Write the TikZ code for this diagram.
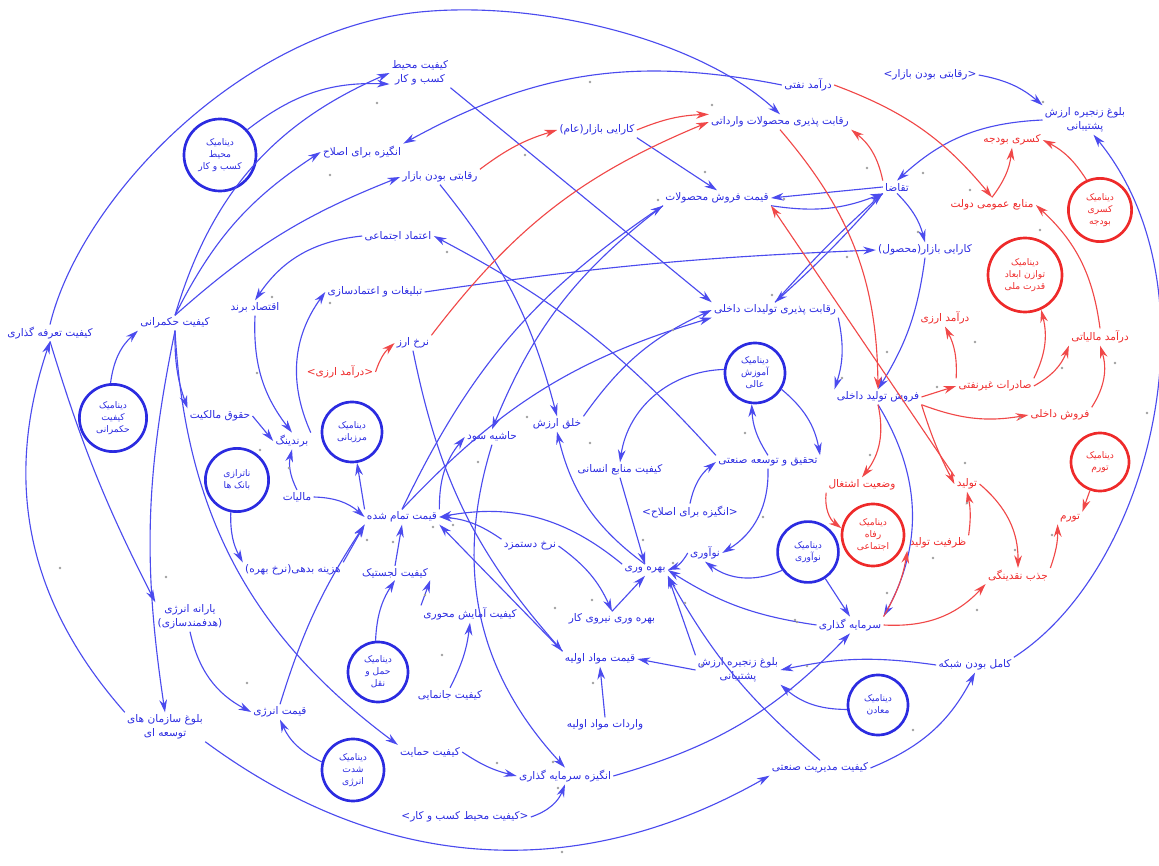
\documentclass[tikz,border=0pt]{standalone}
\usepackage{fontspec}
\usepackage{tikz}
\usetikzlibrary{arrows.meta}
\newfontfamily\fafont[Script=Arabic]{DejaVu Sans}
\TeXXeTstate=1
\newcommand{\fa}[1]{\beginR #1\endR}
\definecolor{LoopBlue}{HTML}{2B2BE0}
\definecolor{LoopRed}{HTML}{EE2A2A}
\definecolor{LinkBlue}{HTML}{4B4BEE}
\definecolor{LinkRed}{HTML}{F04848}

\begin{document}
\begin{tikzpicture}[
  x=0.025cm, y=0.025cm,
  var/.style={font=\fafont\fontsize{7.5}{10}\selectfont, align=center, inner sep=1.5pt},
  bv/.style={var, text=LoopBlue},
  rv/.style={var, text=LoopRed},
  loopc/.style={circle, line width=1.9pt, align=center, inner sep=0pt,
    font=\fafont\fontsize{6.5}{8.5}\selectfont, minimum size=#1},
  bc/.style={loopc=#1, draw=LoopBlue, text=LoopBlue},
  rc/.style={loopc=#1, draw=LoopRed, text=LoopRed},
  bl/.style={->, draw=LinkBlue, line width=0.8pt},
  rl/.style={->, draw=LinkRed, line width=0.8pt},
  pol/.style={fill=gray!75},
  >={Stealth[length=9pt,width=5.5pt]}]
\useasboundingbox (0,0) rectangle (1159,-866);

% blue variables
\node[bv] (kmBiz) at (420,-73) {\fa{کیفیت محیط}\\\fa{کسب و کار}};
\node[bv] (oil) at (808,-85) {\fa{درآمد نفتی}};
\node[bv] (mktCompIn) at (930,-75) {\fa{<رقابتی بودن بازار>}};
\node[bv] (vcTop) at (1085,-120) {\fa{بلوغ زنجیره ارزش}\\\fa{پشتیبانی}};
\node[bv] (impComp) at (780,-122) {\fa{رقابت پذیری محصولات وارداتی}};
\node[bv] (angizeh) at (362,-152) {\fa{انگیزه برای اصلاح}};
\node[bv] (effGen) at (597,-130) {\fa{کارایی بازار(عام)}};
\node[bv] (mktComp) at (440,-177) {\fa{رقابتی بودن بازار}};
\node[bv] (price) at (717,-198) {\fa{قیمت فروش محصولات}};
\node[bv] (demand) at (897,-187) {\fa{تقاضا}};
\node[bv] (trust) at (398,-236) {\fa{اعتماد اجتماعی}};
\node[bv] (effProd) at (925,-250) {\fa{کارایی بازار(محصول)}};
\node[bv] (adv) at (375,-292) {\fa{تبلیغات و اعتمادسازی}};
\node[bv] (brandEco) at (255,-308) {\fa{اقتصاد برند}};
\node[bv] (domComp) at (775,-310) {\fa{رقابت پذیری تولیدات داخلی}};
\node[bv] (hokm) at (175,-323) {\fa{کیفیت حکمرانی}};
\node[bv] (tariff) at (50,-333) {\fa{کیفیت تعرفه گذاری}};
\node[bv] (fx) at (413,-343) {\fa{نرخ ارز}};
\node[rv] (fxIncIn) at (340,-372) {\fa{<درآمد ارزی>}};
\node[bv] (domSales) at (878,-397) {\fa{فروش تولید داخلی}};
\node[bv] (prop) at (220,-416) {\fa{حقوق مالکیت}};
\node[bv] (brand) at (292,-441) {\fa{برندینگ}};
\node[bv] (margin) at (492,-437) {\fa{حاشیه سود}};
\node[bv] (value) at (557,-424) {\fa{خلق ارزش}};
\node[bv] (rnd) at (768,-462) {\fa{تحقیق و توسعه صنعتی}};
\node[bv] (hr) at (620,-470) {\fa{کیفیت منابع انسانی}};
\node[bv] (tax) at (297,-497) {\fa{مالیات}};
\node[bv] (cost) at (402,-517) {\fa{قیمت تمام شده}};
\node[bv] (angizehIn) at (690,-512) {\fa{<انگیزه برای اصلاح>}};
\node[bv] (debt) at (293,-570) {\fa{هزینه بدهی(نرخ بهره)}};
\node[bv] (wage) at (530,-546) {\fa{نرخ دستمزد}};
\node[bv] (prody) at (645,-570) {\fa{بهره وری}};
\node[bv] (innov) at (705,-553) {\fa{نوآوری}};
\node[bv] (logis) at (395,-573) {\fa{کیفیت لجستیک}};
\node[bv] (invest) at (850,-625) {\fa{سرمایه گذاری}};
\node[bv] (labProd) at (612,-619) {\fa{بهره وری نیروی کار}};
\node[bv] (amayesh) at (470,-614) {\fa{کیفیت آمایش محوری}};
\node[bv] (subsidy) at (190,-617) {\fa{یارانه انرژی}\\\fa{(هدفمندسازی)}};
\node[bv] (rawPrice) at (600,-659) {\fa{قیمت مواد اولیه}};
\node[bv] (vcLow) at (738,-670) {\fa{بلوغ زنجیره ارزش}\\\fa{پشتیبانی}};
\node[bv] (network) at (975,-665) {\fa{کامل بودن شبکه}};
\node[bv] (janamayi) at (450,-695) {\fa{کیفیت جانمایی}};
\node[bv] (energyPrice) at (280,-712) {\fa{قیمت انرژی}};
\node[bv] (devOrg) at (165,-727) {\fa{بلوغ سازمان های}\\\fa{توسعه ای}};
\node[bv] (rawImp) at (605,-725) {\fa{واردات مواد اولیه}};
\node[bv] (support) at (430,-752) {\fa{کیفیت حمایت}};
\node[bv] (invMot) at (565,-776) {\fa{انگیزه سرمایه گذاری}};
\node[bv] (indMgmt) at (820,-768) {\fa{کیفیت مدیریت صنعتی}};
\node[bv] (kmBizIn) at (465,-817) {\fa{<کیفیت محیط کسب و کار>}};

% red variables
\node[rv] (deficit) at (1012,-140) {\fa{کسری بودجه}};
\node[rv] (pubRes) at (992,-205) {\fa{منابع عمومی دولت}};
\node[rv] (fxInc) at (945,-318) {\fa{درآمد ارزی}};
\node[rv] (taxInc) at (1100,-337) {\fa{درآمد مالیاتی}};
\node[rv] (export) at (995,-386) {\fa{صادرات غیرنفتی}};
\node[rv] (intSales) at (1060,-415) {\fa{فروش داخلی}};
\node[rv] (employ) at (862,-485) {\fa{وضعیت اشتغال}};
\node[rv] (prod) at (967,-484) {\fa{تولید}};
\node[rv] (capacity) at (938,-543) {\fa{ظرفیت تولید}};
\node[rv] (liquidity) at (1018,-576) {\fa{جذب نقدینگی}};
\node[rv] (inflation) at (1070,-518) {\fa{تورم}};

% loops
\node[bc=1.8cm] (cBiz) at (220,-155) {\fa{دینامیک}\\\fa{محیط}\\\fa{کسب و کار}};
\node[bc=1.68cm] (cHokm) at (113,-418) {\fa{دینامیک}\\\fa{کیفیت}\\\fa{حکمرانی}};
\node[bc=1.58cm] (cBank) at (237,-480) {\fa{ناترازی}\\\fa{بانک ها}};
\node[bc=1.5cm] (cMarz) at (352,-432) {\fa{دینامیک}\\\fa{مرزبانی}};
\node[bc=1.5cm] (cEdu) at (755,-373) {\fa{دینامیک}\\\fa{آموزش}\\\fa{عالی}};
\node[bc=1.52cm] (cInnov) at (808,-552) {\fa{دینامیک}\\\fa{نوآوری}};
\node[bc=1.5cm] (cTrans) at (378,-672) {\fa{دینامیک}\\\fa{حمل و}\\\fa{نقل}};
\node[bc=1.55cm] (cEnergy) at (353,-770) {\fa{دینامیک}\\\fa{شدت}\\\fa{انرژی}};
\node[bc=1.5cm] (cMine) at (878,-705) {\fa{دینامیک}\\\fa{معادن}};
\node[rc=1.58cm] (cDef) at (1100,-210) {\fa{دینامیک}\\\fa{کسری}\\\fa{بودجه}};
\node[rc=1.85cm] (cPower) at (1025,-275) {\fa{دینامیک}\\\fa{توازن ابعاد}\\\fa{قدرت ملی}};
\node[rc=1.55cm] (cWelfare) at (873,-535) {\fa{دینامیک}\\\fa{رفاه}\\\fa{اجتماعی}};
\node[rc=1.45cm] (cInfl) at (1100,-462) {\fa{دینامیک}\\\fa{تورم}};

% blue links
\draw[bl] (cBiz) to[bend left=20] (kmBiz.200);
\draw[bl] (hokm.north) to[bend left=25] (kmBiz.west);
\draw[bl] (hokm.north) to[bend left=15] (angizeh.west);
\draw[bl] (hokm.north) to[bend left=10] (mktComp.west);
\draw[bl] (tariff.north) .. controls (80,-200) and (240,-30) .. (420,-12)
  .. controls (540,0) and (700,-40) .. (impComp.north);
\draw[bl] (devOrg.north west) to[bend left=30] (tariff.south);
\draw[bl] (tariff.south) to[bend right=5] (subsidy.north west);
\draw[bl] (hokm.south) to[bend right=10] (devOrg.north);
\draw[bl] (hokm.south) to[bend right=10] (prop.north west);
\draw[bl] (hokm.south) to[bend right=25] (support.north west);
\draw[bl] (cHokm) to[bend left=20] (hokm.south west);
\draw[bl] (subsidy.south) to[bend right=25] (energyPrice.west);
\draw[bl] (cEnergy) to[bend left=20] (energyPrice.south);
\draw[bl] (energyPrice.north) to[bend left=8] (cost.south west);
\draw[bl] (devOrg.south east) to[bend right=33] (indMgmt.south west);
\draw[bl] (cBank) to[bend right=15] (debt.north west);
\draw[bl] (debt.north east) -- (cost.south west);
\draw[bl] (tax.north) to[bend left=20] (brand.south);
\draw[bl] (tax.east) to[bend left=20] (cost.west);
\draw[bl] (prop.east) -- (brand.west);
\draw[bl] (brandEco.south) to[bend right=20] (brand.north);
\draw[bl] (brand.north east) to[bend left=30] (adv.west);
\draw[bl] (trust.west) to[bend right=25] (brandEco.north);
\draw[bl] (cost.north west) -- (cMarz);
\draw[bl] (adv.east) to[bend left=3] (effProd.west);
\draw[bl] (logis.north) -- (cost.south);
\draw[bl] (amayesh.north west) -- (logis.south east);
\draw[bl] (cTrans) to[bend left=15] (logis.south);
\draw[bl] (janamayi.north) to[bend right=10] (amayesh.south);
\draw[bl] (rawPrice.north west) -- (cost.south east);
\draw[bl] (fx.south) to[bend right=15] (rawPrice.north west);
\draw[bl] (wage.north west) to[bend right=15] (cost.east);
\draw[bl] (wage.east) to[bend left=15] (labProd.north);
\draw[bl] (labProd.north) -- (prody.south);
\draw[bl] (rawImp.north) -- (rawPrice.south);
\draw[bl] (vcLow.west) -- (rawPrice.east);
\draw[bl] (vcLow.north west) -- (prody.south east);
\draw[bl] (network.west) to[bend right=10] (vcLow.east);
\draw[bl] (cMine) to[bend left=20] (vcLow.south east);
\draw[bl] (indMgmt.east) to[bend right=20] (network.south);
\draw[bl] (indMgmt.north) to[bend left=10] (prody.south east);
\draw[bl] (network.north east) .. controls (1150,-570) and (1220,-290) .. (vcTop.-60);
\draw[bl] (mktCompIn.east) to[bend left=15] (vcTop.north west);
\draw[bl] (vcTop.west) to[bend right=20] (demand.north);
\draw[bl] (oil.west) to[bend right=20] (angizeh.north east);
\draw[bl] (effGen.south east) -- (price.north);
\draw[bl] (kmBiz.south east) -- (domComp.north west);
\draw[bl] (mktComp.south) to[bend left=12] (value.north);
\draw[bl] (rnd.north west) to[bend right=10] (trust.east);
\draw[bl] (demand.west) -- (price.east);
\draw[bl] (price.south east) to[bend right=15] (demand.south west);
\draw[bl] (demand.south west) to[bend left=3] (domComp.north);
\draw[bl] (domComp.north) to[bend left=3] (demand.south west);
\draw[bl] (demand.south) to[bend left=15] (effProd.north);
\draw[bl] (effProd.south) to[bend left=12] (domSales.north);
\draw[bl] (domComp.south east) to[bend left=15] (domSales.north west);
\draw[bl] (domSales.south) to[bend left=30] (invest.north east);
\draw[bl] (cInnov) -- (invest.north);
\draw[bl] (invest.west) to[bend left=12] (prody.east);
\draw[bl] (cInnov) to[bend left=30] (innov.south);
\draw[bl] (innov.west) to[bend left=20] (prody.east);
\draw[bl] (rnd.south) to[bend left=30] (innov.east);
\draw[bl] (angizehIn.north) to[bend left=20] (rnd.west);
\draw[bl] (cEdu) to[bend left=20] (rnd.north east);
\draw[bl] (rnd.north) to[bend left=15] (cEdu);
\draw[bl] (cEdu) to[bend right=40] (hr.north);
\draw[bl] (hr.south) -- (prody.north);
\draw[bl] (prody.north) to[bend left=20] (value.south);
\draw[bl] (prody.north west) to[bend right=25] (cost.east);
\draw[bl] (value.north east) to[bend left=15] (domComp.west);
\draw[bl] (cost.north) to[bend left=15] (domComp.south west);
\draw[bl] (cost.north) to[bend left=15] (price.south west);
\draw[bl] (cost.north east) to[bend left=20] (margin.west);
\draw[bl] (price.south west) to[bend right=15] (margin.north);
\draw[bl] (margin.south) to[bend right=30] (invMot.north);
\draw[bl] (support.east) to[bend right=10] (invMot.west);
\draw[bl] (kmBizIn.east) to[bend right=25] (invMot.south);
\draw[bl] (invMot.east) to[bend right=15] (invest.south);

% red links
\draw[rl] (fxIncIn.east) to[bend left=15] (fx.west);
\draw[rl] (fx.north east) to[bend left=15] (impComp.west);
\draw[rl] (mktComp.north east) to[bend left=10] (effGen.west);
\draw[rl] (effGen.east) to[bend left=10] (impComp.north west);
\draw[rl] (oil.east) to[bend left=15] (pubRes.north);
\draw[rl] (pubRes.north) to[bend right=15] (deficit.south);
\draw[rl] (cDef) to[bend right=15] (deficit.east);
\draw[rl] (taxInc.north) to[bend right=20] (pubRes.east);
\draw[rl] (export.north east) to[bend right=20] (cPower);
\draw[rl] (export.north west) to[bend right=15] (fxInc.south);
\draw[rl] (export.east) to[bend right=20] (taxInc.south west);
\draw[rl] (intSales.north east) to[bend right=25] (taxInc.south);
\draw[rl] (domSales.east) -- (export.west);
\draw[rl] (domSales.south east) to[bend right=15] (intSales.west);
\draw[rl] (domSales.south) to[bend left=25] (employ.north);
\draw[rl] (domSales.south east) to[bend right=5] (prod.west);
\draw[rl] (employ.south west) to[bend right=30] (cWelfare);
\draw[rl] (capacity.north east) to[bend right=10] (prod.south);
\draw[rl] (invest.north east) to[bend right=10] (capacity.south west);
\draw[rl] (invest.east) to[bend right=25] (liquidity.south west);
\draw[rl] (prod.east) to[bend left=25] (liquidity.north);
\draw[rl] (liquidity.north east) to[bend right=10] (inflation.south west);
\draw[rl] (cInfl) -- (inflation.north east);
\draw[rl] (demand.north west) to[bend right=20] (impComp.south east);
\draw[rl] (impComp.south) to[bend left=20] (domSales.north);
\draw[rl] (prod.north west) -- (price.south east);

% polarity marks
\foreach \px/\py in {377/103, 330/175, 272/297, 590/82, 712/105, 525/155, 705/172,
  658/200, 447/252, 1043/102, 867/168, 923/173, 970/190, 1040/230, 918/232, 847/257,
  784/199, 772/295, 257/373, 330/303, 260/450, 289/468, 367/540, 60/568, 527/417,
  590/443, 673/330, 745/433, 763/517, 643/540, 673/563, 478/462, 433/527, 453/525,
  393/542, 887/352, 842/378, 975/342, 1062/368, 1115/363, 937/387, 1020/418, 1147/413,
  870/455, 965/463, 967/503, 1015/550, 1052/535, 933/558, 166/577, 247/683, 425/595,
  442/655, 555/608, 592/600, 685/603, 702/665, 593/683, 497/763, 553/762, 558/788,
  562/852, 887/593, 797/622, 807/666, 977/610, 913/730, 795/620}
  \fill[pol] (\px,-\py) circle (1.4);
\end{tikzpicture}
\end{document}
